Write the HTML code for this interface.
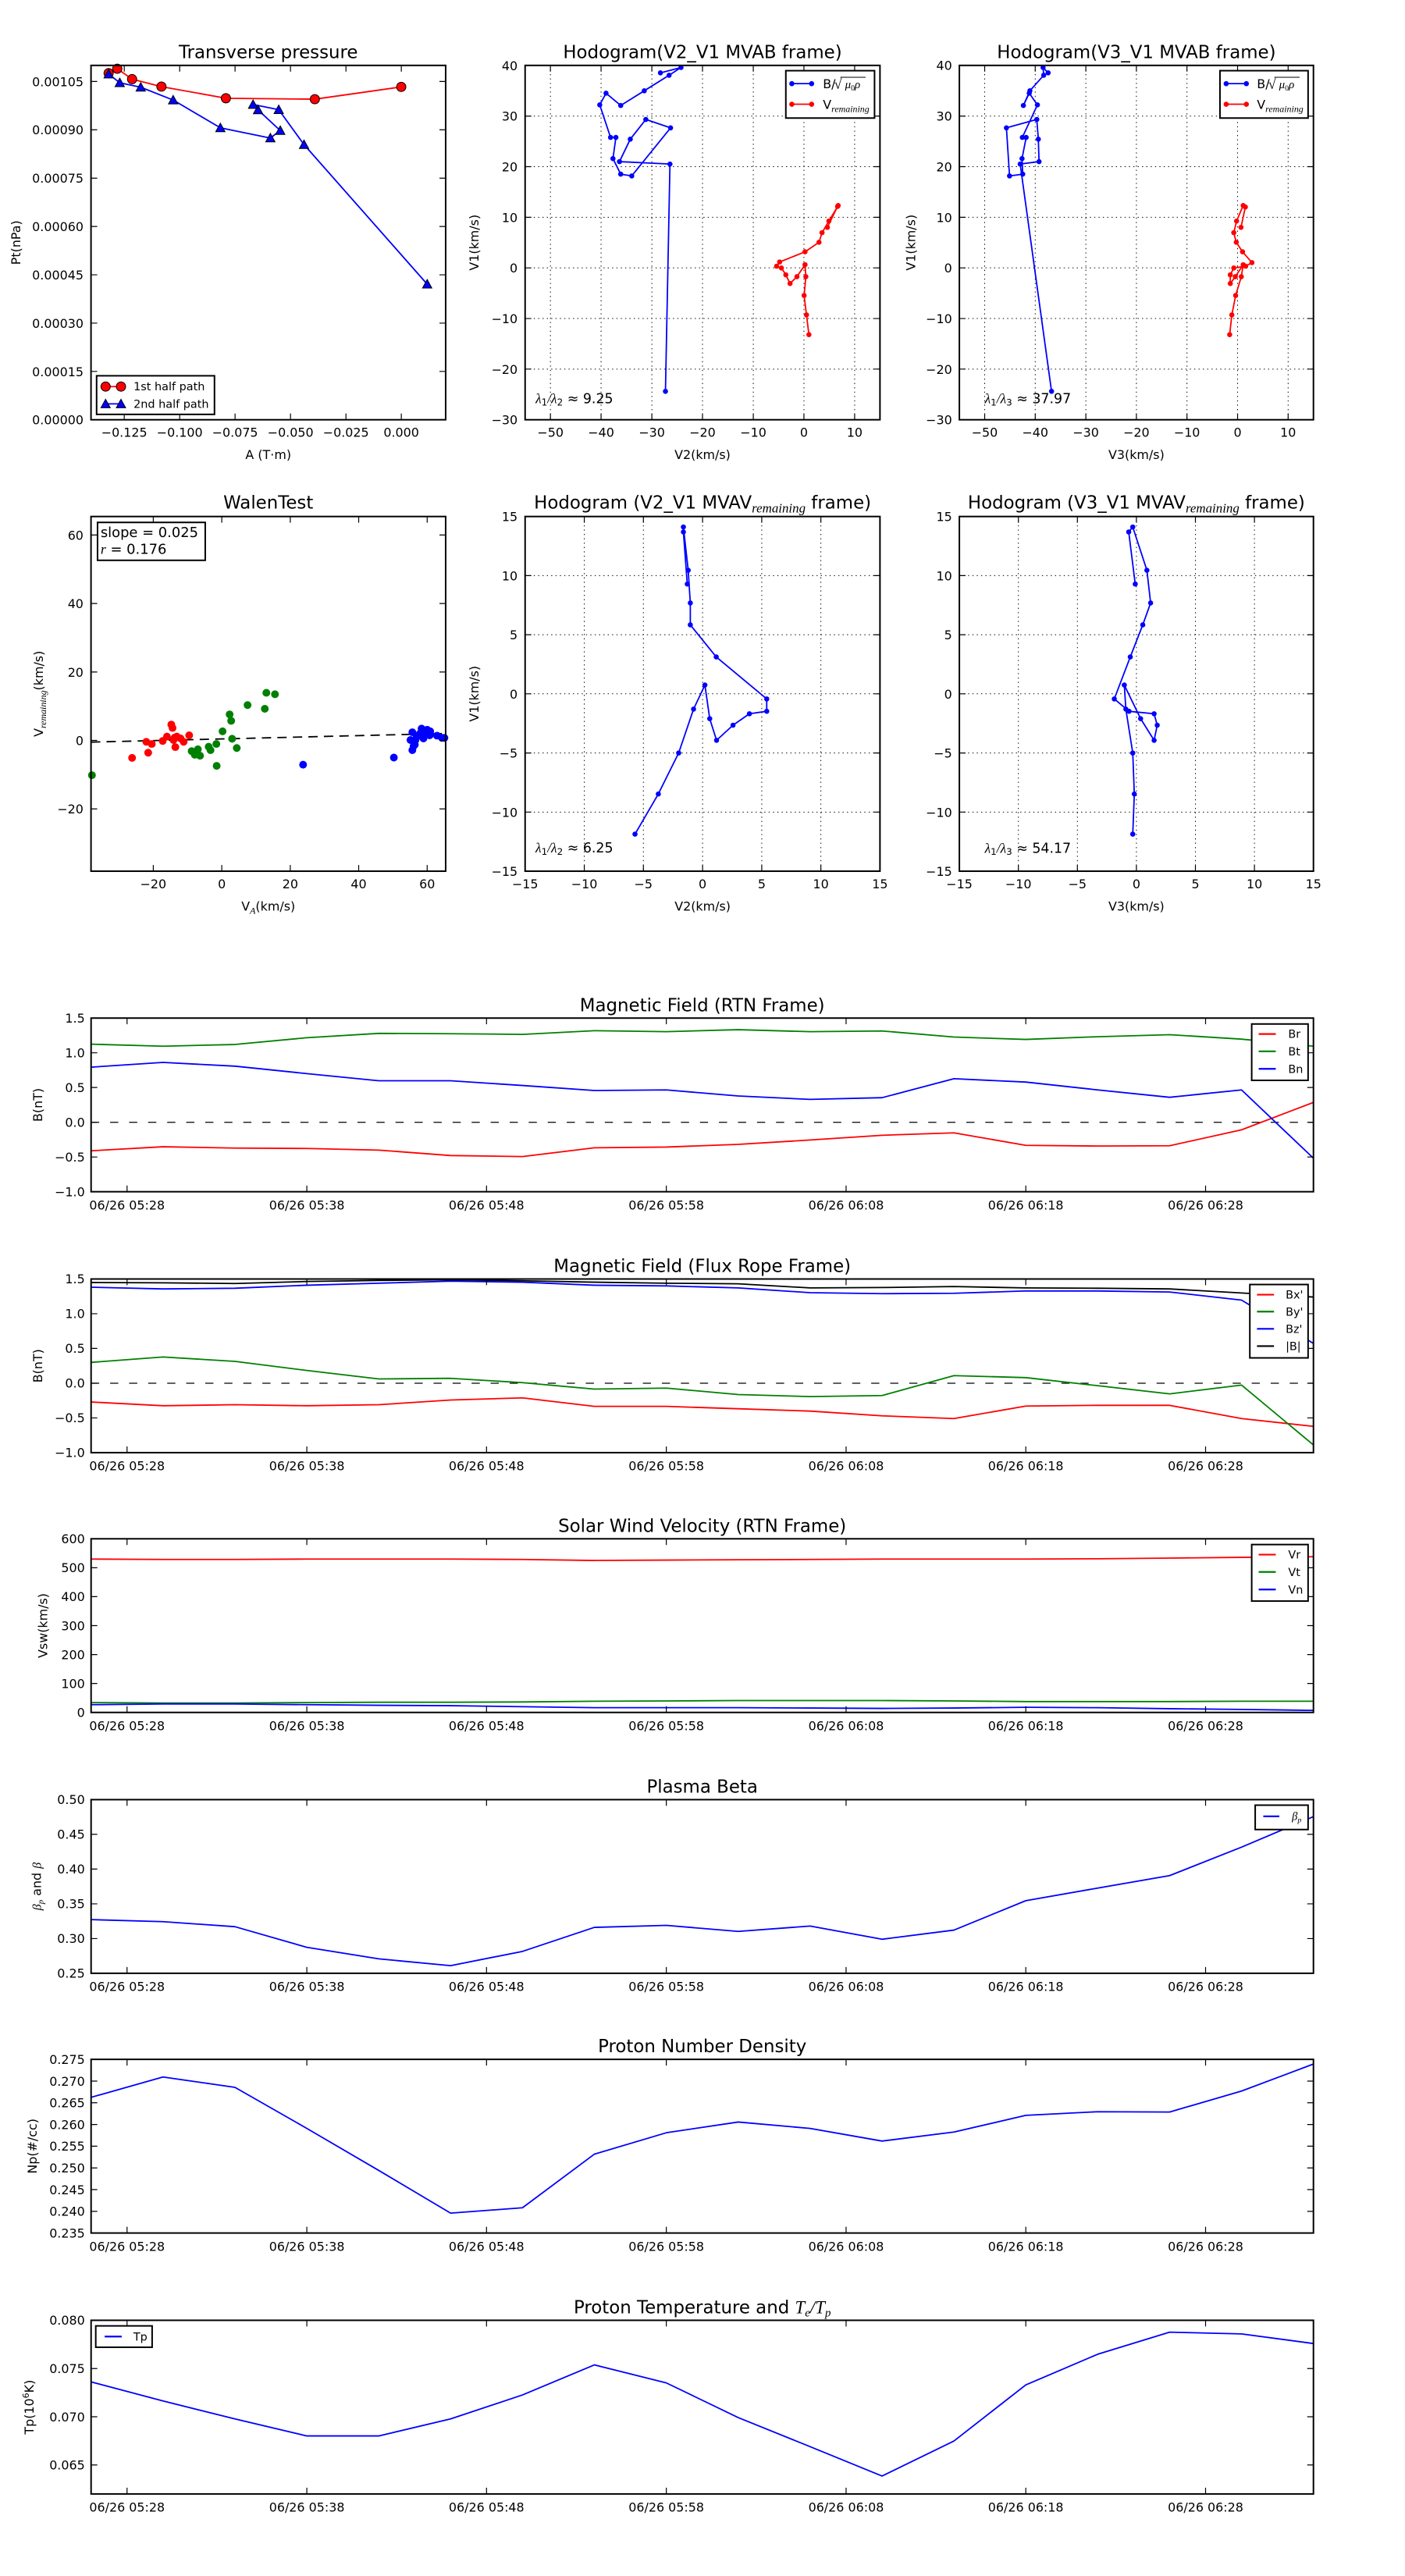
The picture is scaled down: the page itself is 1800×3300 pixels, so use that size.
<!DOCTYPE html>
<html><head><meta charset="utf-8">
<style>
html,body{margin:0;padding:0;background:#fff}
svg{display:block}
text{font-family:"DejaVu Sans","Liberation Sans",sans-serif;font-size:16px;fill:#000}
.ttl{font-size:23px}
.m{font-family:"Liberation Serif","DejaVu Serif",serif;font-style:italic}
.ax{fill:none;stroke:#000;stroke-width:2}
.tk{fill:none;stroke:#000;stroke-width:1.2}
.gr{fill:none;stroke:#000;stroke-width:1;stroke-dasharray:1.4 4.2}
.ln{fill:none;stroke-width:1.8;stroke-linejoin:round}
.lg{font-size:14.5px}
.dash{fill:none;stroke:#000;stroke-width:1.3;stroke-dasharray:10.5 14}
</style></head><body>
<svg width="1800" height="3300" viewBox="0 0 1800 3300" xmlns="http://www.w3.org/2000/svg">
<rect width="1800" height="3300" fill="#fff"/>
<defs>
<circle id="rc" r="6" fill="#f00" stroke="#000" stroke-width="1"/>
<path id="tri" d="M0,-6L6,5L-6,5Z" fill="#00f" stroke="#000" stroke-width="1"/>
<circle id="bd" r="3.3" fill="#00f"/>
<circle id="rd" r="3.3" fill="#f00"/>
<circle id="wr" r="5" fill="#f00"/>
<circle id="wg" r="5" fill="#008000"/>
<circle id="wb" r="5" fill="#00f"/>
<g id="tsx">
<rect x="117.5" y="0" width="1574" height="223.6" class="ax"/>
<path class="tk" d="M163.8,223.6v-8M395.3,223.6v-8M626.7,223.6v-8M858.2,223.6v-8M1089.7,223.6v-8M1321.1,223.6v-8M1552.6,223.6v-8M163.8,0v8M395.3,0v8M626.7,0v8M858.2,0v8M1089.7,0v8M1321.1,0v8M1552.6,0v8"/>
<g text-anchor="middle">
<text x="163.8" y="246.5">06/26 05:28</text>
<text x="395.3" y="246.5">06/26 05:38</text>
<text x="626.7" y="246.5">06/26 05:48</text>
<text x="858.2" y="246.5">06/26 05:58</text>
<text x="1089.7" y="246.5">06/26 06:08</text>
<text x="1321.1" y="246.5">06/26 06:18</text>
<text x="1552.6" y="246.5">06/26 06:28</text>
</g>
</g>
</defs>

<!-- ============ Panel 1: Transverse pressure ============ -->
<g transform="matrix(0.99486,0,0,0.995025,0,0)">
<text class="ttl" x="345.5" y="75" text-anchor="middle">Transverse pressure</text>
<polyline class="ln" stroke="#f00" points="516.7,111.9 405.4,127.7 290.9,126.5 207.9,111.5 170.1,101.9 151,88.5 139.9,94.2"/>
<use href="#rc" x="516.7" y="111.9"/><use href="#rc" x="405.4" y="127.7"/><use href="#rc" x="290.9" y="126.5"/><use href="#rc" x="207.9" y="111.5"/><use href="#rc" x="170.1" y="101.9"/><use href="#rc" x="151" y="88.5"/><use href="#rc" x="139.9" y="94.2"/>
<polyline class="ln" stroke="#00f" points="139.9,95.4 154.2,106.5 181.2,112.3 223,128.8 283.8,164.6 348.2,177.7 360.9,168.1 332.3,141.5 325.9,134.6 358.9,141.2 391.5,186.2 550.1,365.8"/>
<use href="#tri" x="139.9" y="95.4"/><use href="#tri" x="154.2" y="106.5"/><use href="#tri" x="181.2" y="112.3"/><use href="#tri" x="223" y="128.8"/><use href="#tri" x="283.8" y="164.6"/><use href="#tri" x="348.2" y="177.7"/><use href="#tri" x="360.9" y="168.1"/><use href="#tri" x="332.3" y="141.5"/><use href="#tri" x="325.9" y="134.6"/><use href="#tri" x="358.9" y="141.2"/><use href="#tri" x="391.5" y="186.2"/><use href="#tri" x="550.1" y="365.8"/>
<rect x="117.2" y="84.2" width="456.7" height="456.2" class="ax"/>
<path class="tk" d="M160,540.4v-8M231.4,540.4v-8M302.7,540.4v-8M374.1,540.4v-8M445.5,540.4v-8M516.8,540.4v-8M160,84.2v8M231.4,84.2v8M302.7,84.2v8M374.1,84.2v8M445.5,84.2v8M516.8,84.2v8M117.2,478.2h8M117.2,416h8M117.2,353.8h8M117.2,291.6h8M117.2,229.4h8M117.2,167.1h8M117.2,104.9h8M573.9,478.2h-8M573.9,416h-8M573.9,353.8h-8M573.9,291.6h-8M573.9,229.4h-8M573.9,167.1h-8M573.9,104.9h-8"/>
<g text-anchor="end">
<text x="107.5" y="546.4">0.00000</text>
<text x="107.5" y="484.2">0.00015</text>
<text x="107.5" y="422">0.00030</text>
<text x="107.5" y="359.8">0.00045</text>
<text x="107.5" y="297.6">0.00060</text>
<text x="107.5" y="235.4">0.00075</text>
<text x="107.5" y="173.1">0.00090</text>
<text x="107.5" y="110.9">0.00105</text>
</g>
<g text-anchor="middle">
<text x="160" y="562.5">−0.125</text>
<text x="231.4" y="562.5">−0.100</text>
<text x="302.7" y="562.5">−0.075</text>
<text x="374.1" y="562.5">−0.050</text>
<text x="445.5" y="562.5">−0.025</text>
<text x="516.8" y="562.5">0.000</text>
<text x="345.5" y="591">A (T·m)</text>
</g>
<text transform="translate(26.2,312.3) rotate(-90)" text-anchor="middle">Pt(nPa)</text>
<rect x="124.4" y="483.8" width="151.8" height="49.7" fill="#fff" stroke="#000" stroke-width="2"/>
<line x1="136" y1="497.7" x2="155.8" y2="497.7" stroke="#f00" stroke-width="1.8"/>
<use href="#rc" x="136" y="497.7"/><use href="#rc" x="155.8" y="497.7"/>
<text class="lg" x="172" y="502.7">1st half path</text>
<line x1="136" y1="520" x2="155.8" y2="520" stroke="#00f" stroke-width="1.8"/>
<use href="#tri" x="136" y="520"/><use href="#tri" x="155.8" y="520"/>
<text class="lg" x="172" y="525">2nd half path</text>
</g>

<!-- ============ Panel 2: Hodogram V2_V1 MVAB ============ -->
<g transform="matrix(0.995025,0,0,0.995025,2.985,0)">
<text class="ttl" x="901.5" y="75" text-anchor="middle">Hodogram(V2_V1 MVAB frame)</text>
<path class="gr" d="M705.7,84.2V540.4M770.9,84.2V540.4M836.3,84.2V540.4M901.5,84.2V540.4M966.9,84.2V540.4M1032.1,84.2V540.4M1097.4,84.2V540.4M673.1,475.2H1130M673.1,410.1H1130M673.1,344.9H1130M673.1,279.8H1130M673.1,214.6H1130M673.1,149.5H1130"/>
<polyline class="ln" stroke="#00f" points="847.3,93.8 873.8,86.9 858.5,96.9 826.5,116.9 796.2,135.8 777.3,120 769.2,135 783.1,176.9 790,176.9 786.2,204.2 796.2,224.2 810.4,226.5 860.4,164.6 828.5,153.8 808.5,179.2 794.6,208.1 859.6,211.2 853.8,503.8"/>
<use href="#bd" x="847.3" y="93.8"/><use href="#bd" x="873.8" y="86.9"/><use href="#bd" x="858.5" y="96.9"/><use href="#bd" x="826.5" y="116.9"/><use href="#bd" x="796.2" y="135.8"/><use href="#bd" x="777.3" y="120"/><use href="#bd" x="769.2" y="135"/><use href="#bd" x="783.1" y="176.9"/><use href="#bd" x="790" y="176.9"/><use href="#bd" x="786.2" y="204.2"/><use href="#bd" x="796.2" y="224.2"/><use href="#bd" x="810.4" y="226.5"/><use href="#bd" x="860.4" y="164.6"/><use href="#bd" x="828.5" y="153.8"/><use href="#bd" x="808.5" y="179.2"/><use href="#bd" x="794.6" y="208.1"/><use href="#bd" x="859.6" y="211.2"/><use href="#bd" x="853.8" y="503.8"/>
<polyline class="ln" stroke="#f00" points="1062.3,292.7 1075.4,265.8 1076.2,264.6 1064.2,284.6 1055.4,299.6 1051.5,311.9 1033.5,324.2 1000.8,337.3 996.9,342.7 1003.1,345 1008.8,353.8 1014.2,365 1023.1,356.2 1033.5,340.8 1034.6,356.2 1032.3,380.4 1035.4,405.4 1038.5,430.8"/>
<use href="#rd" x="1062.3" y="292.7"/><use href="#rd" x="1075.4" y="265.8"/><use href="#rd" x="1076.2" y="264.6"/><use href="#rd" x="1064.2" y="284.6"/><use href="#rd" x="1055.4" y="299.6"/><use href="#rd" x="1051.5" y="311.9"/><use href="#rd" x="1033.5" y="324.2"/><use href="#rd" x="1000.8" y="337.3"/><use href="#rd" x="996.9" y="342.7"/><use href="#rd" x="1003.1" y="345"/><use href="#rd" x="1008.8" y="353.8"/><use href="#rd" x="1014.2" y="365"/><use href="#rd" x="1023.1" y="356.2"/><use href="#rd" x="1033.5" y="340.8"/><use href="#rd" x="1034.6" y="356.2"/><use href="#rd" x="1032.3" y="380.4"/><use href="#rd" x="1035.4" y="405.4"/><use href="#rd" x="1038.5" y="430.8"/>
<rect x="673.1" y="84.2" width="456.9" height="456.2" class="ax"/>
<path class="tk" d="M705.7,540.4v-8M770.9,540.4v-8M836.3,540.4v-8M901.5,540.4v-8M966.9,540.4v-8M1032.1,540.4v-8M1097.4,540.4v-8M705.7,84.2v8M770.9,84.2v8M836.3,84.2v8M901.5,84.2v8M966.9,84.2v8M1032.1,84.2v8M1097.4,84.2v8M673.1,475.2h8M673.1,410.1h8M673.1,344.9h8M673.1,279.8h8M673.1,214.6h8M673.1,149.5h8M1130,475.2h-8M1130,410.1h-8M1130,344.9h-8M1130,279.8h-8M1130,214.6h-8M1130,149.5h-8"/>
<g text-anchor="end">
<text x="663.5" y="546.4">−30</text><text x="663.5" y="481.2">−20</text><text x="663.5" y="416.1">−10</text><text x="663.5" y="350.9">0</text><text x="663.5" y="285.8">10</text><text x="663.5" y="220.6">20</text><text x="663.5" y="155.5">30</text><text x="663.5" y="90.2">40</text>
</g>
<g text-anchor="middle">
<text x="705.7" y="562.5">−50</text><text x="770.9" y="562.5">−40</text><text x="836.3" y="562.5">−30</text><text x="901.5" y="562.5">−20</text><text x="966.9" y="562.5">−10</text><text x="1032.1" y="562.5">0</text><text x="1097.4" y="562.5">10</text>
<text x="901.5" y="591">V2(km/s)</text>
</g>
<text transform="translate(613.2,312.3) rotate(-90)" text-anchor="middle">V1(km/s)</text>
<text x="686.5" y="519" style="font-size:17.5px"><tspan class="m">λ</tspan><tspan style="font-size:12px" dy="3">1</tspan><tspan class="m" dy="-3">/λ</tspan><tspan style="font-size:12px" dy="3">2</tspan><tspan dy="-3"> ≈ 9.25</tspan></text>
<rect x="1008.8" y="91" width="114.2" height="61" fill="#fff" stroke="#000" stroke-width="2"/>
<line x1="1016.5" y1="107.7" x2="1042" y2="107.7" stroke="#00f" stroke-width="1.8"/><use href="#bd" x="1016.5" y="107.7"/><use href="#bd" x="1042" y="107.7"/>
<text x="1056.5" y="113.5" style="font-size:16px">B/</text><text x="1071" y="114" style="font-family:'Liberation Serif',serif;font-size:18px">√</text><text class="m" x="1085" y="113.5" style="font-size:15px">μ<tspan style="font-style:normal;font-size:10px" dy="3">0</tspan><tspan dy="-3">ρ</tspan></text>
<line x1="1079" y1="99.5" x2="1111.5" y2="99.5" stroke="#000" stroke-width="1"/>
<line x1="1016.5" y1="134.2" x2="1042" y2="134.2" stroke="#f00" stroke-width="1.8"/><use href="#rd" x="1016.5" y="134.2"/><use href="#rd" x="1042" y="134.2"/>
<text x="1056.5" y="140.2" style="font-size:16px">V<tspan class="m" style="font-size:12px" dy="4">remaining</tspan></text>
</g>

<!-- ============ Panel 3: Hodogram V3_V1 MVAB ============ -->
<g transform="matrix(0.994777,0,0,0.995025,6.111,0)">
<text class="ttl" x="1457.4" y="75" text-anchor="middle">Hodogram(V3_V1 MVAB frame)</text>
<path class="gr" d="M1262,84.2V540.4M1327.1,84.2V540.4M1392.3,84.2V540.4M1457.4,84.2V540.4M1522.5,84.2V540.4M1587.7,84.2V540.4M1652.8,84.2V540.4M1229.4,475.2H1685.4M1229.4,410.1H1685.4M1229.4,344.9H1685.4M1229.4,279.8H1685.4M1229.4,214.6H1685.4M1229.4,149.5H1685.4"/>
<polyline class="ln" stroke="#00f" points="1343.7,93.8 1337.2,86.9 1338,96.9 1320.2,116.9 1311.8,135.8 1319.4,120 1329.9,135 1310.5,176.9 1315.4,176.9 1310.1,204.2 1311,224.2 1294,226.5 1290,164.6 1329.1,153.8 1331.1,179.2 1332,208.1 1307.7,211.2 1348.1,503.8"/>
<use href="#bd" x="1343.7" y="93.8"/><use href="#bd" x="1337.2" y="86.9"/><use href="#bd" x="1338" y="96.9"/><use href="#bd" x="1320.2" y="116.9"/><use href="#bd" x="1311.8" y="135.8"/><use href="#bd" x="1319.4" y="120"/><use href="#bd" x="1329.9" y="135"/><use href="#bd" x="1310.5" y="176.9"/><use href="#bd" x="1315.4" y="176.9"/><use href="#bd" x="1310.1" y="204.2"/><use href="#bd" x="1311" y="224.2"/><use href="#bd" x="1294" y="226.5"/><use href="#bd" x="1290" y="164.6"/><use href="#bd" x="1329.1" y="153.8"/><use href="#bd" x="1331.1" y="179.2"/><use href="#bd" x="1332" y="208.1"/><use href="#bd" x="1307.7" y="211.2"/><use href="#bd" x="1348.1" y="503.8"/>
<polyline class="ln" stroke="#f00" points="1592.1,292.7 1597.7,266.5 1594.9,264.6 1586.4,284.6 1582.8,299.6 1586,311.9 1594.1,324.2 1606.2,338.1 1598.1,342.7 1582.8,345 1578.3,353.8 1578.3,365 1584.8,356.2 1594.9,340.8 1592.5,356.2 1585.2,380.4 1580.3,405.4 1577.5,430.8"/>
<use href="#rd" x="1592.1" y="292.7"/><use href="#rd" x="1597.7" y="266.5"/><use href="#rd" x="1594.9" y="264.6"/><use href="#rd" x="1586.4" y="284.6"/><use href="#rd" x="1582.8" y="299.6"/><use href="#rd" x="1586" y="311.9"/><use href="#rd" x="1594.1" y="324.2"/><use href="#rd" x="1606.2" y="338.1"/><use href="#rd" x="1598.1" y="342.7"/><use href="#rd" x="1582.8" y="345"/><use href="#rd" x="1578.3" y="353.8"/><use href="#rd" x="1578.3" y="365"/><use href="#rd" x="1584.8" y="356.2"/><use href="#rd" x="1594.9" y="340.8"/><use href="#rd" x="1592.5" y="356.2"/><use href="#rd" x="1585.2" y="380.4"/><use href="#rd" x="1580.3" y="405.4"/><use href="#rd" x="1577.5" y="430.8"/>
<rect x="1229.4" y="84.2" width="456" height="456.2" class="ax"/>
<path class="tk" d="M1262,540.4v-8M1327.1,540.4v-8M1392.3,540.4v-8M1457.4,540.4v-8M1522.5,540.4v-8M1587.7,540.4v-8M1652.8,540.4v-8M1262,84.2v8M1327.1,84.2v8M1392.3,84.2v8M1457.4,84.2v8M1522.5,84.2v8M1587.7,84.2v8M1652.8,84.2v8M1229.4,475.2h8M1229.4,410.1h8M1229.4,344.9h8M1229.4,279.8h8M1229.4,214.6h8M1229.4,149.5h8M1685.4,475.2h-8M1685.4,410.1h-8M1685.4,344.9h-8M1685.4,279.8h-8M1685.4,214.6h-8M1685.4,149.5h-8"/>
<g text-anchor="end">
<text x="1220" y="546.4">−30</text><text x="1220" y="481.2">−20</text><text x="1220" y="416.1">−10</text><text x="1220" y="350.9">0</text><text x="1220" y="285.8">10</text><text x="1220" y="220.6">20</text><text x="1220" y="155.5">30</text><text x="1220" y="90.2">40</text>
</g>
<g text-anchor="middle">
<text x="1262" y="562.5">−50</text><text x="1327.1" y="562.5">−40</text><text x="1392.3" y="562.5">−30</text><text x="1457.4" y="562.5">−20</text><text x="1522.5" y="562.5">−10</text><text x="1587.7" y="562.5">0</text><text x="1652.8" y="562.5">10</text>
<text x="1457.4" y="591">V3(km/s)</text>
</g>
<text transform="translate(1172.5,312.3) rotate(-90)" text-anchor="middle">V1(km/s)</text>
<text x="1262.1" y="519" style="font-size:17.5px"><tspan class="m">λ</tspan><tspan style="font-size:12px" dy="3">1</tspan><tspan class="m" dy="-3">/λ</tspan><tspan style="font-size:12px" dy="3">3</tspan><tspan dy="-3"> ≈ 37.97</tspan></text>
<rect x="1565" y="91" width="113.5" height="61" fill="#fff" stroke="#000" stroke-width="2"/>
<line x1="1573" y1="107.7" x2="1599" y2="107.7" stroke="#00f" stroke-width="1.8"/><use href="#bd" x="1573" y="107.7"/><use href="#bd" x="1599" y="107.7"/>
<text x="1612.6" y="113.5" style="font-size:16px">B/</text><text x="1627.1" y="114" style="font-family:'Liberation Serif',serif;font-size:18px">√</text><text class="m" x="1641.1" y="113.5" style="font-size:15px">μ<tspan style="font-style:normal;font-size:10px" dy="3">0</tspan><tspan dy="-3">ρ</tspan></text>
<line x1="1635.1" y1="99.5" x2="1667.6" y2="99.5" stroke="#000" stroke-width="1"/>
<line x1="1573" y1="134.2" x2="1599" y2="134.2" stroke="#f00" stroke-width="1.8"/><use href="#rd" x="1573" y="134.2"/><use href="#rd" x="1599" y="134.2"/>
<text x="1612.6" y="140.2" style="font-size:16px">V<tspan class="m" style="font-size:12px" dy="4">remaining</tspan></text>
</g>

<!-- ============ Panel 4: WalenTest ============ -->
<g transform="matrix(0.99486,0,0,0.99486,0,3.084)">
<text class="ttl" x="345.5" y="652" text-anchor="middle">WalenTest</text>
<line x1="117.2" y1="952.5" x2="573.9" y2="941.4" class="dash" style="stroke-width:1.8;stroke-dasharray:12 8"/>
<use href="#wr" x="170.1" y="972.8"/><use href="#wr" x="188.4" y="952.1"/><use href="#wr" x="190.8" y="966.1"/><use href="#wr" x="195.5" y="954.9"/><use href="#wr" x="209.5" y="951"/><use href="#wr" x="215" y="945.4"/><use href="#wr" x="220.6" y="929.9"/><use href="#wr" x="222.2" y="934.3"/><use href="#wr" x="225" y="946.6"/><use href="#wr" x="225.8" y="958.9"/><use href="#wr" x="227.7" y="945.4"/><use href="#wr" x="236.5" y="952.1"/><use href="#wr" x="243.6" y="943.8"/><use href="#wr" x="223.4" y="949.8"/><use href="#wr" x="232.5" y="947.8"/>
<use href="#wg" x="118.4" y="995.1"/><use href="#wg" x="246.8" y="964.1"/><use href="#wg" x="250.8" y="968.8"/><use href="#wg" x="254.8" y="961.7"/><use href="#wg" x="257.6" y="970"/><use href="#wg" x="268.7" y="958.5"/><use href="#wg" x="271.1" y="962.9"/><use href="#wg" x="278.6" y="954.9"/><use href="#wg" x="279" y="983.1"/><use href="#wg" x="286.6" y="938.6"/><use href="#wg" x="295.7" y="916.8"/><use href="#wg" x="297.7" y="925.1"/><use href="#wg" x="298.9" y="948.2"/><use href="#wg" x="304.9" y="960.1"/><use href="#wg" x="318.8" y="904.8"/><use href="#wg" x="341" y="909.6"/><use href="#wg" x="343" y="889"/><use href="#wg" x="354.1" y="890.9"/>
<use href="#wb" x="390.3" y="981.6"/><use href="#wb" x="507.2" y="972.4"/><use href="#wb" x="531" y="939.8"/><use href="#wb" x="531" y="962.9"/><use href="#wb" x="528.6" y="949.8"/><use href="#wb" x="534.2" y="955.7"/><use href="#wb" x="536.6" y="945.8"/><use href="#wb" x="542.9" y="935.1"/><use href="#wb" x="545.3" y="947.8"/><use href="#wb" x="550.1" y="936.6"/><use href="#wb" x="554" y="938.6"/><use href="#wb" x="553.3" y="943.8"/><use href="#wb" x="562.8" y="944.2"/><use href="#wb" x="569.2" y="947"/><use href="#wb" x="572.3" y="947"/><use href="#wb" x="540.5" y="941.8"/><use href="#wb" x="535" y="949.8"/><use href="#wb" x="532.6" y="957.7"/><use href="#wb" x="544.5" y="941"/>
<rect x="117.2" y="662" width="456.7" height="456.7" class="ax"/>
<path class="tk" d="M197.4,1118.7v-8M285.6,1118.7v-8M373.8,1118.7v-8M461.9,1118.7v-8M550.1,1118.7v-8M197.4,662v8M285.6,662v8M373.8,662v8M461.9,662v8M550.1,662v8M117.2,685.8h8M117.2,774h8M117.2,862.2h8M117.2,950.3h8M117.2,1038.5h8M573.9,685.8h-8M573.9,774h-8M573.9,862.2h-8M573.9,950.3h-8M573.9,1038.5h-8"/>
<g text-anchor="end">
<text x="107.5" y="691.8">60</text><text x="107.5" y="780">40</text><text x="107.5" y="868.2">20</text><text x="107.5" y="956.3">0</text><text x="107.5" y="1044.5">−20</text>
</g>
<g text-anchor="middle">
<text x="197.4" y="1140.6">−20</text><text x="285.6" y="1140.6">0</text><text x="373.8" y="1140.6">20</text><text x="461.9" y="1140.6">40</text><text x="550.1" y="1140.6">60</text>
<text x="345.5" y="1169.5">V<tspan class="m" style="font-size:12px" dy="4">A</tspan><tspan dy="-4">(km/s)</tspan></text>
</g>
<text transform="translate(55.2,890.3) rotate(-90)" text-anchor="middle">V<tspan class="m" style="font-size:12px" dy="4">remaining</tspan><tspan dy="-4">(km/s)</tspan></text>
<rect x="125.6" y="669.6" width="138.7" height="48.8" fill="#fff" stroke="#000" stroke-width="2"/>
<text x="129.5" y="688.5" style="font-size:18px">slope = 0.025</text>
<text x="129.5" y="710.3" style="font-size:18px"><tspan class="m">r</tspan> = 0.176</text>
</g>

<!-- ============ Panel 5: Hodogram V2_V1 MVAV ============ -->
<g transform="matrix(0.995025,0,0,0.99486,2.985,3.084)">
<text class="ttl" x="901.6" y="652" text-anchor="middle">Hodogram (V2_V1 MVAV<tspan class="m" style="font-size:17px" dy="5">remaining</tspan><tspan dy="-5"> frame)</tspan></text>
<path class="gr" d="M749.3,662V1118.7M825.4,662V1118.7M901.6,662V1118.7M977.8,662V1118.7M1053.9,662V1118.7M673.1,738.1H1130M673.1,814.2H1130M673.1,890.3H1130M673.1,966.5H1130M673.1,1042.6H1130"/>
<polyline class="ln" stroke="#00f" points="881.9,749 876.9,681.9 876.9,675.5 883.1,731.2 885.8,773.3 885.8,801.5 919.2,842.8 984.2,896.9 984.2,912.8 961.9,916 940.8,930.7 919.6,950.2 910.8,922.3 904.6,879 890,910 870.8,966.5 844.6,1019.3 814.6,1071"/>
<use href="#bd" x="881.9" y="749"/><use href="#bd" x="876.9" y="681.9"/><use href="#bd" x="876.9" y="675.5"/><use href="#bd" x="883.1" y="731.2"/><use href="#bd" x="885.8" y="773.3"/><use href="#bd" x="885.8" y="801.5"/><use href="#bd" x="919.2" y="842.8"/><use href="#bd" x="984.2" y="896.9"/><use href="#bd" x="984.2" y="912.8"/><use href="#bd" x="961.9" y="916"/><use href="#bd" x="940.8" y="930.7"/><use href="#bd" x="919.6" y="950.2"/><use href="#bd" x="910.8" y="922.3"/><use href="#bd" x="904.6" y="879"/><use href="#bd" x="890" y="910"/><use href="#bd" x="870.8" y="966.5"/><use href="#bd" x="844.6" y="1019.3"/><use href="#bd" x="814.6" y="1071"/>
<rect x="673.1" y="662" width="456.9" height="456.7" class="ax"/>
<path class="tk" d="M749.3,1118.7v-8M825.4,1118.7v-8M901.6,1118.7v-8M977.8,1118.7v-8M1053.9,1118.7v-8M749.3,662v8M825.4,662v8M901.6,662v8M977.8,662v8M1053.9,662v8M673.1,738.1h8M673.1,814.2h8M673.1,890.3h8M673.1,966.5h8M673.1,1042.6h8M1130,738.1h-8M1130,814.2h-8M1130,890.3h-8M1130,966.5h-8M1130,1042.6h-8"/>
<g text-anchor="end">
<text x="663.5" y="668">15</text><text x="663.5" y="744.1">10</text><text x="663.5" y="820.2">5</text><text x="663.5" y="896.3">0</text><text x="663.5" y="972.5">−5</text><text x="663.5" y="1048.6">−10</text><text x="663.5" y="1124.7">−15</text>
</g>
<g text-anchor="middle">
<text x="673.1" y="1140.6">−15</text><text x="749.3" y="1140.6">−10</text><text x="825.4" y="1140.6">−5</text><text x="901.6" y="1140.6">0</text><text x="977.8" y="1140.6">5</text><text x="1053.9" y="1140.6">10</text><text x="1130" y="1140.6">15</text>
<text x="901.6" y="1169.5">V2(km/s)</text>
</g>
<text transform="translate(613.2,890.3) rotate(-90)" text-anchor="middle">V1(km/s)</text>
<text x="686.5" y="1094.8" style="font-size:17.5px"><tspan class="m">λ</tspan><tspan style="font-size:12px" dy="3">1</tspan><tspan class="m" dy="-3">/λ</tspan><tspan style="font-size:12px" dy="3">2</tspan><tspan dy="-3"> ≈ 6.25</tspan></text>
</g>

<!-- ============ Panel 6: Hodogram V3_V1 MVAV ============ -->
<g transform="matrix(0.994777,0,0,0.99486,6.111,3.084)">
<text class="ttl" x="1457.4" y="652" text-anchor="middle">Hodogram (V3_V1 MVAV<tspan class="m" style="font-size:17px" dy="5">remaining</tspan><tspan dy="-5"> frame)</tspan></text>
<path class="gr" d="M1305.4,662V1118.7M1381.4,662V1118.7M1457.4,662V1118.7M1533.4,662V1118.7M1609.4,662V1118.7M1229.4,738.1H1685.4M1229.4,814.2H1685.4M1229.4,890.3H1685.4M1229.4,966.5H1685.4M1229.4,1042.6H1685.4"/>
<polyline class="ln" stroke="#00f" points="1455.9,749 1447.5,681.9 1452.7,675.5 1470.9,731.2 1475.7,773.3 1465.6,801.5 1449.5,842.8 1428.9,896.9 1447.9,912.8 1480.2,916 1484.2,930.7 1480.2,950.2 1462.8,922.3 1441.8,879 1443.8,910 1452.7,966.5 1454.7,1019.3 1452.7,1071"/>
<use href="#bd" x="1455.9" y="749"/><use href="#bd" x="1447.5" y="681.9"/><use href="#bd" x="1452.7" y="675.5"/><use href="#bd" x="1470.9" y="731.2"/><use href="#bd" x="1475.7" y="773.3"/><use href="#bd" x="1465.6" y="801.5"/><use href="#bd" x="1449.5" y="842.8"/><use href="#bd" x="1428.9" y="896.9"/><use href="#bd" x="1447.9" y="912.8"/><use href="#bd" x="1480.2" y="916"/><use href="#bd" x="1484.2" y="930.7"/><use href="#bd" x="1480.2" y="950.2"/><use href="#bd" x="1462.8" y="922.3"/><use href="#bd" x="1441.8" y="879"/><use href="#bd" x="1443.8" y="910"/><use href="#bd" x="1452.7" y="966.5"/><use href="#bd" x="1454.7" y="1019.3"/><use href="#bd" x="1452.7" y="1071"/>
<rect x="1229.4" y="662" width="456" height="456.7" class="ax"/>
<path class="tk" d="M1305.4,1118.7v-8M1381.4,1118.7v-8M1457.4,1118.7v-8M1533.4,1118.7v-8M1609.4,1118.7v-8M1305.4,662v8M1381.4,662v8M1457.4,662v8M1533.4,662v8M1609.4,662v8M1229.4,738.1h8M1229.4,814.2h8M1229.4,890.3h8M1229.4,966.5h8M1229.4,1042.6h8M1685.4,738.1h-8M1685.4,814.2h-8M1685.4,890.3h-8M1685.4,966.5h-8M1685.4,1042.6h-8"/>
<g text-anchor="end">
<text x="1220" y="668">15</text><text x="1220" y="744.1">10</text><text x="1220" y="820.2">5</text><text x="1220" y="896.3">0</text><text x="1220" y="972.5">−5</text><text x="1220" y="1048.6">−10</text><text x="1220" y="1124.7">−15</text>
</g>
<g text-anchor="middle">
<text x="1229.4" y="1140.6">−15</text><text x="1305.4" y="1140.6">−10</text><text x="1381.4" y="1140.6">−5</text><text x="1457.4" y="1140.6">0</text><text x="1533.4" y="1140.6">5</text><text x="1609.4" y="1140.6">10</text><text x="1685.4" y="1140.6">15</text>
<text x="1457.4" y="1169.5">V3(km/s)</text>
</g>
<text x="1262.1" y="1094.8" style="font-size:17.5px"><tspan class="m">λ</tspan><tspan style="font-size:12px" dy="3">1</tspan><tspan class="m" dy="-3">/λ</tspan><tspan style="font-size:12px" dy="3">3</tspan><tspan dy="-3"> ≈ 54.17</tspan></text>
</g>

<!-- ============ TS1 + TS2 ============ -->
<g transform="matrix(0.99492,0,0,0.994796,-0.203,6.609)">
<text class="ttl" x="904.5" y="1295.4" text-anchor="middle">Magnetic Field (RTN Frame)</text>
<line x1="117.5" y1="1438.6" x2="1691.5" y2="1438.6" class="dash"/>
<polyline class="ln" stroke="#f00" points="117.5,1475.3 210.1,1470.1 302.7,1471.8 395.3,1472.3 487.9,1474.4 580.4,1481.4 673,1482.7 765.6,1471.4 858.2,1470.5 950.8,1467 1043.4,1461.4 1136,1455.3 1228.6,1452.2 1321.1,1468.3 1413.7,1469.2 1506.3,1468.8 1598.9,1448.3 1691.5,1413"/>
<polyline class="ln" stroke="#008000" points="117.5,1338 210.1,1340.6 302.7,1338.4 395.3,1329.7 487.9,1324.1 580.4,1324.5 673,1325.4 765.6,1320.6 858.2,1321.9 950.8,1319.3 1043.4,1321.9 1136,1321 1228.6,1328.8 1321.1,1331.9 1413.7,1328.4 1506.3,1325.8 1598.9,1331.5 1691.5,1340.6"/>
<polyline class="ln" stroke="#00f" points="117.5,1367.6 210.1,1361.5 302.7,1366.3 395.3,1375.9 487.9,1385.1 580.4,1385.1 673,1391.2 765.6,1397.7 858.2,1396.9 950.8,1404.7 1043.4,1409.1 1136,1406.9 1228.6,1382.5 1321.1,1386.8 1413.7,1396.9 1506.3,1406.4 1598.9,1396.9 1691.5,1484.9"/>
<use href="#tsx" y="1304.4"/>
<path class="tk" d="M117.5,1349.1h8M117.5,1393.8h8M117.5,1438.6h8M117.5,1483.3h8M1691.5,1349.1h-8M1691.5,1393.8h-8M1691.5,1438.6h-8M1691.5,1483.3h-8"/>
<g text-anchor="end">
<text x="109.5" y="1310.2">1.5</text><text x="109.5" y="1354.9">1.0</text><text x="109.5" y="1399.6">0.5</text><text x="109.5" y="1444.4">0.0</text><text x="109.5" y="1489.1">−0.5</text><text x="109.5" y="1533.8">−1.0</text>
</g>
<text transform="translate(54.5,1416.2) rotate(-90)" text-anchor="middle">B(nT)</text>
<rect x="1612" y="1312" width="72.6" height="72.6" fill="#fff" stroke="#000" stroke-width="2"/>
<line x1="1621" y1="1324.9" x2="1643" y2="1324.9" stroke="#f00" stroke-width="2.2"/><text class="lg" x="1659" y="1330">Br</text>
<line x1="1621" y1="1347.2" x2="1643" y2="1347.2" stroke="#008000" stroke-width="2.2"/><text class="lg" x="1659" y="1352.3">Bt</text>
<line x1="1621" y1="1369.8" x2="1643" y2="1369.8" stroke="#00f" stroke-width="2.2"/><text class="lg" x="1659" y="1374.9">Bn</text>

<text class="ttl" x="904.5" y="1631.4" text-anchor="middle">Magnetic Field (Flux Rope Frame)</text>
<line x1="117.5" y1="1774.6" x2="1691.5" y2="1774.6" class="dash"/>
<polyline class="ln" stroke="#f00" points="117.5,1798.8 210.1,1803.6 302.7,1802.3 395.3,1803.6 487.9,1802.3 580.4,1796.2 673,1793.5 765.6,1804.4 858.2,1804.4 950.8,1807.5 1043.4,1810.5 1136,1816.6 1228.6,1820.1 1321.1,1804 1413.7,1803.1 1506.3,1803.1 1598.9,1820.1 1691.5,1830.2"/>
<polyline class="ln" stroke="#008000" points="117.5,1747.8 210.1,1740.8 302.7,1746.5 395.3,1758.2 487.9,1769.1 580.4,1768.3 673,1773.9 765.6,1782.2 858.2,1780.9 950.8,1789.2 1043.4,1791.8 1136,1790.5 1228.6,1764.8 1321.1,1767.4 1413.7,1777.8 1506.3,1788.3 1598.9,1777 1691.5,1854.1"/>
<polyline class="ln" stroke="#00f" points="117.5,1651 210.1,1653.2 302.7,1652.3 395.3,1648.4 487.9,1645.8 580.4,1643.2 673,1644.5 765.6,1648.4 858.2,1649.3 950.8,1651.9 1043.4,1658 1136,1659.3 1228.6,1658.8 1321.1,1655.8 1413.7,1655.8 1506.3,1657.1 1598.9,1667.6 1691.5,1723.4"/>
<polyline class="ln" stroke="#000" points="117.5,1644.9 210.1,1645.3 302.7,1646.2 395.3,1643.6 487.9,1642.3 580.4,1641.4 673,1642.7 765.6,1644.5 858.2,1645.8 950.8,1646.6 1043.4,1651.9 1136,1651.4 1228.6,1650.1 1321.1,1651.9 1413.7,1652.3 1506.3,1653.2 1598.9,1658.4 1691.5,1663.6"/>
<use href="#tsx" y="1640.4"/>
<path class="tk" d="M117.5,1685.1h8M117.5,1729.8h8M117.5,1774.6h8M117.5,1819.3h8M1691.5,1685.1h-8M1691.5,1729.8h-8M1691.5,1774.6h-8M1691.5,1819.3h-8"/>
<g text-anchor="end">
<text x="109.5" y="1646.2">1.5</text><text x="109.5" y="1690.9">1.0</text><text x="109.5" y="1735.6">0.5</text><text x="109.5" y="1780.4">0.0</text><text x="109.5" y="1825.1">−0.5</text><text x="109.5" y="1869.8">−1.0</text>
</g>
<text transform="translate(54.5,1752.2) rotate(-90)" text-anchor="middle">B(nT)</text>
<rect x="1609.6" y="1647.5" width="75" height="94.5" fill="#fff" stroke="#000" stroke-width="2"/>
<line x1="1618.8" y1="1660.6" x2="1640.7" y2="1660.6" stroke="#f00" stroke-width="2.2"/><text class="lg" x="1655.7" y="1665.7">Bx'</text>
<line x1="1618.8" y1="1682.4" x2="1640.7" y2="1682.4" stroke="#008000" stroke-width="2.2"/><text class="lg" x="1655.7" y="1687.5">By'</text>
<line x1="1618.8" y1="1704.6" x2="1640.7" y2="1704.6" stroke="#00f" stroke-width="2.2"/><text class="lg" x="1655.7" y="1709.7">Bz'</text>
<line x1="1618.8" y1="1726.8" x2="1640.7" y2="1726.8" stroke="#000" stroke-width="2.2"/><text class="lg" x="1655.7" y="1731.9">|B|</text>
</g>

<!-- ============ TS3 + TS4 ============ -->
<g transform="matrix(0.99492,0,0,0.994796,-0.203,10.148)">
<text class="ttl" x="904.5" y="1962.4" text-anchor="middle">Solar Wind Velocity (RTN Frame)</text>
<polyline class="ln" stroke="#f00" points="117.5,1997.5 210.1,1998 302.7,1998 395.3,1997.5 487.9,1997.5 580.4,1997.5 673,1998 765.6,1999.3 858.2,1998.8 950.8,1998.4 1043.4,1998 1136,1997.5 1228.6,1997.5 1321.1,1997.5 1413.7,1997.1 1506.3,1996.2 1598.9,1995.3 1691.5,1994.5"/>
<polyline class="ln" stroke="#008000" points="117.5,2182.3 210.1,2182.8 302.7,2182.8 395.3,2182.3 487.9,2181.9 580.4,2181.9 673,2181.5 765.6,2180.6 858.2,2180.2 950.8,2179.7 1043.4,2179.7 1136,2179.7 1228.6,2180.2 1321.1,2181 1413.7,2181 1506.3,2181 1598.9,2180.6 1691.5,2180.6"/>
<polyline class="ln" stroke="#00f" points="117.5,2185 210.1,2184.1 302.7,2184.1 395.3,2185 487.9,2185.8 580.4,2186.3 673,2187.6 765.6,2188.9 858.2,2188.9 950.8,2188.9 1043.4,2189.3 1136,2189.8 1228.6,2189.3 1321.1,2188.4 1413.7,2188.9 1506.3,2190.2 1598.9,2191.1 1691.5,2192.4"/>
<use href="#tsx" y="1971.4"/>
<path class="tk" d="M117.5,2008.7h8M117.5,2045.9h8M117.5,2083.2h8M117.5,2120.5h8M117.5,2157.7h8M1691.5,2008.7h-8M1691.5,2045.9h-8M1691.5,2083.2h-8M1691.5,2120.5h-8M1691.5,2157.7h-8"/>
<g text-anchor="end">
<text x="109.5" y="1977.2">600</text><text x="109.5" y="2014.5">500</text><text x="109.5" y="2051.7">400</text><text x="109.5" y="2089">300</text><text x="109.5" y="2126.3">200</text><text x="109.5" y="2163.5">100</text><text x="109.5" y="2200.8">0</text>
</g>
<text transform="translate(61,2083.2) rotate(-90)" text-anchor="middle">Vsw(km/s)</text>
<rect x="1612" y="1978.8" width="72.6" height="72.8" fill="#fff" stroke="#000" stroke-width="2"/>
<line x1="1621" y1="1991.8" x2="1643" y2="1991.8" stroke="#f00" stroke-width="2.2"/><text class="lg" x="1659" y="1996.9">Vr</text>
<line x1="1621" y1="2014.1" x2="1643" y2="2014.1" stroke="#008000" stroke-width="2.2"/><text class="lg" x="1659" y="2019.2">Vt</text>
<line x1="1621" y1="2036.7" x2="1643" y2="2036.7" stroke="#00f" stroke-width="2.2"/><text class="lg" x="1659" y="2041.8">Vn</text>

<text class="ttl" x="904.5" y="2298.3" text-anchor="middle">Plasma Beta</text>
<polyline class="ln" stroke="#00f" points="117.5,2461.8 210.1,2464.4 302.7,2470.9 395.3,2497.5 487.9,2512.3 580.4,2521.1 673,2502.7 765.6,2471.8 858.2,2469.2 950.8,2477 1043.4,2470.1 1136,2487.1 1228.6,2475.3 1321.1,2437.4 1413.7,2421.2 1506.3,2405.1 1598.9,2368.5 1691.5,2329.2"/>
<use href="#tsx" y="2307.3"/>
<path class="tk" d="M117.5,2352h8M117.5,2396.7h8M117.5,2441.5h8M117.5,2486.2h8M1691.5,2352h-8M1691.5,2396.7h-8M1691.5,2441.5h-8M1691.5,2486.2h-8"/>
<g text-anchor="end">
<text x="109.5" y="2313.1">0.50</text><text x="109.5" y="2357.8">0.45</text><text x="109.5" y="2402.5">0.40</text><text x="109.5" y="2447.3">0.35</text><text x="109.5" y="2492">0.30</text><text x="109.5" y="2536.7">0.25</text>
</g>
<text transform="translate(53,2419) rotate(-90)" text-anchor="middle"><tspan class="m">β</tspan><tspan class="m" style="font-size:11px" dy="3">p</tspan><tspan dy="-3"> and </tspan><tspan class="m">β</tspan></text>
<rect x="1616.5" y="2314.4" width="68.1" height="31.4" fill="#fff" stroke="#000" stroke-width="2"/>
<line x1="1626.9" y1="2328.8" x2="1647.6" y2="2328.8" stroke="#00f" stroke-width="2.2"/>
<text class="lg m" x="1663.8" y="2333.5">β<tspan style="font-size:10px" dy="3">p</tspan></text>
</g>

<!-- ============ TS5 + TS6 ============ -->
<g transform="matrix(0.99492,0,0,0.994872,-0.203,13.487)">
<text class="ttl" x="904.5" y="2629.2" text-anchor="middle">Proton Number Density</text>
<polyline class="ln" stroke="#00f" points="117.5,2687.1 210.1,2660.9 302.7,2674.2 395.3,2727.1 487.9,2781.2 580.4,2836.2 673,2829.3 765.6,2760.2 858.2,2732.7 950.8,2718.9 1043.4,2727.1 1136,2743.4 1228.6,2731.8 1321.1,2710.3 1413.7,2705.6 1506.3,2706 1598.9,2679 1691.5,2644.2"/>
<use href="#tsx" y="2638.2"/>
<path class="tk" d="M117.5,2666.2h8M117.5,2694.1h8M117.5,2722.1h8M117.5,2750h8M117.5,2778h8M117.5,2805.9h8M117.5,2833.9h8M1691.5,2666.2h-8M1691.5,2694.1h-8M1691.5,2722.1h-8M1691.5,2750h-8M1691.5,2778h-8M1691.5,2805.9h-8M1691.5,2833.9h-8"/>
<g text-anchor="end">
<text x="109.5" y="2644">0.275</text><text x="109.5" y="2672">0.270</text><text x="109.5" y="2699.9">0.265</text><text x="109.5" y="2727.9">0.260</text><text x="109.5" y="2755.8">0.255</text><text x="109.5" y="2783.8">0.250</text><text x="109.5" y="2811.7">0.245</text><text x="109.5" y="2839.7">0.240</text><text x="109.5" y="2867.6">0.235</text>
</g>
<text transform="translate(47.5,2750) rotate(-90)" text-anchor="middle">Np(#/cc)</text>

<text class="ttl" x="904.5" y="2965.2" text-anchor="middle">Proton Temperature and <tspan class="m">T</tspan><tspan class="m" style="font-size:15px" dy="4">e</tspan><tspan class="m" dy="-4">/T</tspan><tspan class="m" style="font-size:15px" dy="4">p</tspan></text>
<polyline class="ln" stroke="#00f" points="117.5,3053.5 210.1,3078 302.7,3101.2 395.3,3123.1 487.9,3123.1 580.4,3101.2 673,3070.3 765.6,3031.6 858.2,3054.8 950.8,3099.5 1043.4,3136.9 1136,3174.7 1228.6,3129.6 1321.1,3057.4 1413.7,3017.9 1506.3,2989.5 1598.9,2991.7 1691.5,3004.1"/>
<use href="#tsx" y="2974.2"/>
<path class="tk" d="M117.5,3036.3h8M117.5,3098.4h8M117.5,3160.5h8M1691.5,3036.3h-8M1691.5,3098.4h-8M1691.5,3160.5h-8"/>
<g text-anchor="end">
<text x="109.5" y="2980">0.080</text><text x="109.5" y="3042.1">0.075</text><text x="109.5" y="3104.2">0.070</text><text x="109.5" y="3166.3">0.065</text>
</g>
<text transform="translate(43.5,3086) rotate(-90)" text-anchor="middle">Tp(10<tspan style="font-size:11px" dy="-6">6</tspan><tspan dy="6">K)</tspan></text>
<rect x="123.5" y="2981.4" width="72.6" height="27.5" fill="#fff" stroke="#000" stroke-width="2"/>
<line x1="135" y1="2995.1" x2="156.9" y2="2995.1" stroke="#00f" stroke-width="2.2"/>
<text class="lg" x="171.9" y="3000.2">Tp</text>
</g>
</svg>
</body></html>
